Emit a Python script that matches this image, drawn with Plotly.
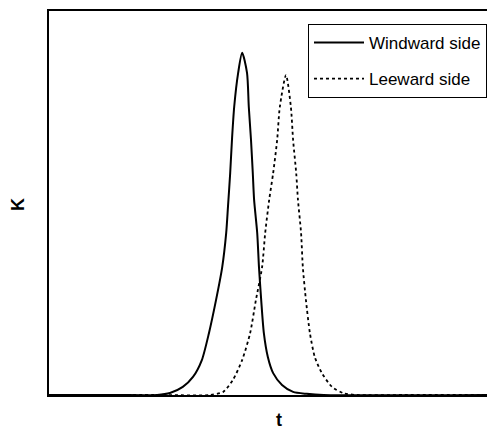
import plotly.graph_objects as go

# Windward side (solid)
t_wind = [0, 15.0, 24.4, 27.3, 30.2, 32.5, 34.5, 36.1, 37.7, 39.1, 40.0, 40.4, 40.9, 41.3, 41.8,
          42.7, 43.6, 44.7, 45.1, 45.6, 46.0, 46.3, 47.0, 47.4, 47.9, 48.5, 49.4, 50.6, 52.6,
          55.1, 58.2, 62.0, 100]
k_wind = [0, 0, 0.0, 0.005, 0.021, 0.047, 0.091, 0.161, 0.247, 0.333, 0.422, 0.490, 0.578, 0.664, 0.750,
          0.839, 0.891, 0.839, 0.750, 0.664, 0.578, 0.508, 0.422, 0.333, 0.247, 0.161, 0.099, 0.057, 0.026,
          0.008, 0.003, 0, 0]

# Leeward side (dotted)
t_lee = [0, 25.0, 36.3, 39.3, 41.5, 43.6, 45.4, 46.7, 48.1, 48.8, 49.7, 50.6, 51.5, 52.1, 53.5,
         54.6, 55.1, 55.8, 56.2, 56.9, 57.3, 58.0, 58.9, 60.0, 61.6, 63.9, 66.4, 69.5, 80.0, 100]
k_lee = [0, 0, 0.0, 0.008, 0.039, 0.091, 0.161, 0.247, 0.333, 0.422, 0.508, 0.578, 0.664, 0.750, 0.833,
         0.750, 0.664, 0.578, 0.508, 0.422, 0.333, 0.247, 0.161, 0.099, 0.057, 0.021, 0.005, 0.0, 0, 0]

x_title = "t"
y_title = "K"

fig = go.Figure()
fig.add_trace(go.Scatter(x=t_wind, y=k_wind, mode="lines", name="Windward side",
                         line=dict(color="black", width=2, shape="spline", smoothing=0.7),
                         legendgroup="a"))
fig.add_trace(go.Scatter(x=t_lee, y=k_lee, mode="lines", name="Leeward side",
                         line=dict(color="black", width=1.8, dash="dot", shape="spline", smoothing=0.7),
                         legendgroup="b"))

fig.update_layout(
    width=479, height=426,
    margin=dict(l=41, r=0, t=3, b=39),
    paper_bgcolor="white", plot_bgcolor="white",
    font=dict(family="Liberation Sans, Arial, sans-serif", color="black"),
    showlegend=True,
    legend=dict(x=1.0, xanchor="right", y=0.966, yanchor="top",
                bgcolor="white", bordercolor="black", borderwidth=1,
                font=dict(size=17), tracegroupgap=11, itemwidth=50),
    xaxis=dict(range=[0, 98.87], showgrid=False, zeroline=False, showticklabels=False,
               ticks="", showline=True, linecolor="black", linewidth=2, mirror=True),
    yaxis=dict(range=[0, 1], showgrid=False, zeroline=False, showticklabels=False,
               ticks="", showline=True, linecolor="black", linewidth=2),
    annotations=[
        dict(text="<b>" + x_title + "</b>", xref="paper", yref="paper", x=0.525, y=-0.066,
             xanchor="center", yanchor="middle", showarrow=False, font=dict(size=18)),
        dict(text="<b>" + y_title + "</b>", xref="paper", yref="paper", x=-0.071, y=0.497,
             xanchor="center", yanchor="middle", showarrow=False, textangle=-90,
             font=dict(size=18)),
    ],
)

fig.write_html("out.html")
